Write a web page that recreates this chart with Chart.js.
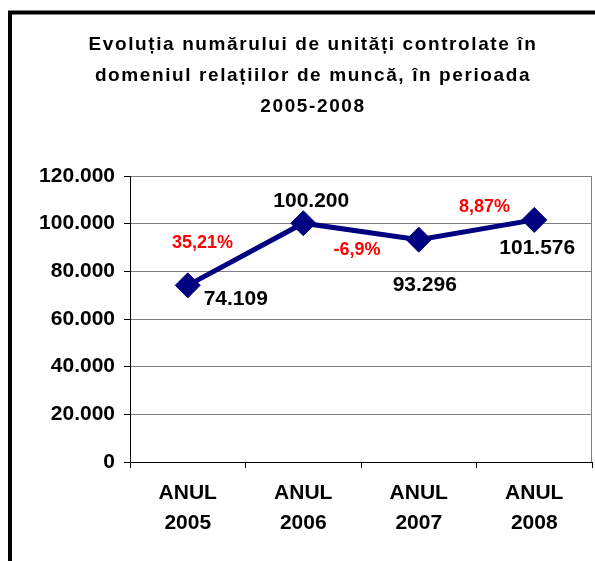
<!DOCTYPE html>
<html>
<head>
<meta charset="utf-8">
<script src="https://cdn.jsdelivr.net/npm/chart.js@4.4.1/dist/chart.umd.min.js"></script>
<style>
    html, body { margin: 0; padding: 0; background: #fff; }
    #wrap { width: 595px; height: 561px; }
</style>
</head>
<body>
<div id="wrap"><canvas id="evolChart" width="595" height="561"></canvas></div>
<script>
const titleLines = ['Evoluția numărului de unități controlate în', 'domeniul relațiilor de muncă, în perioada', '2005-2008'];
const categories = [['ANUL', '2005'], ['ANUL', '2006'], ['ANUL', '2007'], ['ANUL', '2008']];
const unitati = [74109, 100200, 93296, 101576];
const procente = ['35,21%', '-6,9%', '8,87%'];
const yTicks = [0, 20000, 40000, 60000, 80000, 100000, 120000];

// deplasarea etichetelor fata de punct / fata de mijlocul segmentului (px)
const valueOffsets = [[48, 14], [8, -22], [6, 46], [3, 28]];
const pctOffsets = [[-43, -11], [-4, 19], [8, -23]];

const FONT = "Arial, 'Liberation Sans', sans-serif";
Chart.defaults.font.family = FONT;

function formatRo(v) {
    return String(v).replace(/\B(?=(\d{3})+(?!\d))/g, '.');
}

// fundal alb + rama neagra
const framePlugin = {
    id: 'frame',
    beforeDraw(chart) {
        const ctx = chart.ctx;
        ctx.save();
        ctx.fillStyle = '#fff';
        ctx.fillRect(0, 0, chart.width, chart.height);
        ctx.strokeStyle = '#000';
        ctx.lineWidth = 4;
        ctx.strokeRect(10, 12.5, 700, 700);
        ctx.restore();
    },
    beforeDatasetsDraw(chart) {
        const { ctx, chartArea } = chart;
        ctx.save();
        ctx.strokeStyle = '#808080';
        ctx.lineWidth = 1;
        ctx.beginPath();
        ctx.moveTo(Math.round(chartArea.right) - 0.5, chartArea.top);
        ctx.lineTo(Math.round(chartArea.right) - 0.5, chartArea.bottom);
        ctx.stroke();
        ctx.restore();
    }
};

const titlePlugin = {
    id: 'titluMare',
    afterDraw(chart) {
        const ctx = chart.ctx;
        ctx.save();
        ctx.font = 'bold 19px ' + FONT;
        ctx.letterSpacing = '1.6px';
        ctx.fillStyle = '#000';
        ctx.textAlign = 'center';
        ctx.textBaseline = 'alphabetic';
        titleLines.forEach((line, i) => {
            ctx.fillText(line, 313, 50 + i * 31);
        });
        ctx.restore();
    }
};

const labelsPlugin = {
    id: 'etichete',
    afterDatasetsDraw(chart) {
        const ctx = chart.ctx;
        const pts = chart.getDatasetMeta(0).data;
        ctx.save();
        ctx.textAlign = 'center';
        ctx.textBaseline = 'middle';

        ctx.font = 'bold 21px ' + FONT;
        ctx.fillStyle = '#000';
        pts.forEach((p, i) => {
            ctx.fillText(formatRo(unitati[i]), p.x + valueOffsets[i][0], p.y + valueOffsets[i][1]);
        });

        ctx.font = 'bold 18px ' + FONT;
        ctx.fillStyle = '#ff0000';
        procente.forEach((txt, i) => {
            const a = pts[i], b = pts[i + 1];
            const mx = (a.x + b.x) / 2, my = (a.y + b.y) / 2;
            ctx.fillText(txt, mx + pctOffsets[i][0], my + pctOffsets[i][1]);
        });
        ctx.restore();
    }
};

new Chart(document.getElementById('evolChart'), {
    type: 'line',
    data: {
        labels: categories,
        datasets: [{
            data: unitati,
            borderColor: '#000080',
            backgroundColor: '#000080',
            borderWidth: 5,
            tension: 0,
            pointStyle: 'rectRot',
            pointRadius: 12.5,
            pointBackgroundColor: '#000080',
            pointBorderColor: '#000080',
            pointBorderWidth: 1,
            clip: false
        }]
    },
    options: {
        responsive: false,
        animation: false,
        layout: { autoPadding: false, padding: { left: 0, right: 3, top: 176, bottom: 0 } },
        plugins: {
            legend: { display: false },
            tooltip: { enabled: false },
            title: { display: false }
        },
        scales: {
            x: {
                type: 'category',
                offset: true,
                grid: { offset: true, drawOnChartArea: false, tickLength: 6, tickColor: '#000' },
                border: { color: '#000', width: 1 },
                ticks: {
                    color: '#000',
                    font: { size: 21, weight: 'bold', lineHeight: 1.43 },
                    padding: 10,
                    maxRotation: 0,
                    autoSkip: false
                },
                afterFit(scale) { scale.height = 99; }
            },
            y: {
                min: 0,
                max: 120000,
                grid: { color: '#808080', lineWidth: 1, tickLength: 6, tickColor: '#000' },
                border: { color: '#000', width: 1 },
                ticks: {
                    color: '#000',
                    font: { size: 21, weight: 'bold' },
                    padding: 9,
                    callback: v => formatRo(v)
                },
                afterBuildTicks(scale) { scale.ticks = yTicks.map(v => ({ value: v })); },
                afterFit(scale) { scale.width = 130; }
            }
        }
    },
    plugins: [framePlugin, titlePlugin, labelsPlugin]
});
</script>
</body>
</html>
